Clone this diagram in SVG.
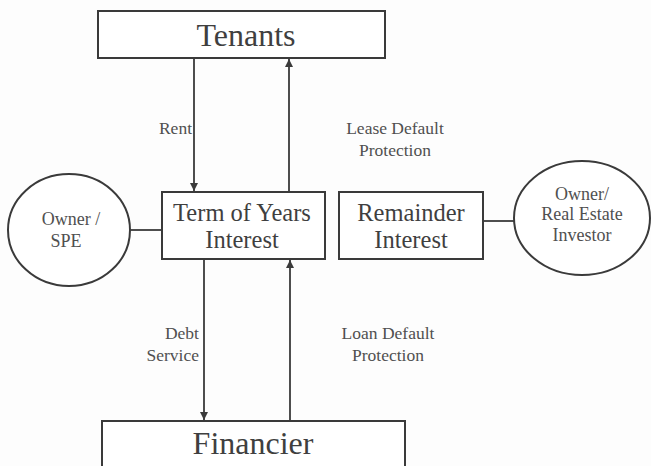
<svg xmlns="http://www.w3.org/2000/svg" width="651" height="466" viewBox="0 0 651 466" font-family="'Liberation Serif', serif">
  <style>
    .box { fill: #ffffff; stroke: #3a3a3a; stroke-width: 2; }
    .wire { stroke: #3a3a3a; stroke-width: 1.8; fill: none; }
    text { font-family: 'Liberation Serif', serif; }
    .big { font-size: 32px; fill: #3f3f3f; text-anchor: middle; }
    .mid { font-size: 24.5px; fill: #3f3f3f; text-anchor: middle; }
    .small { font-size: 18px; fill: #505050; text-anchor: middle; }
    .lbl { font-size: 17.5px; fill: #505050; }
  </style>
  <defs>
    <marker id="arrow" viewBox="0 0 10 10" refX="10" refY="5" markerWidth="9" markerHeight="8" markerUnits="userSpaceOnUse" orient="auto">
      <path d="M0,0 L10,5 L0,10 z" fill="#3a3a3a"/>
    </marker>
  </defs>
  <rect width="651" height="466" fill="#fdfdfd"/>

  <g id="connectors">
    <line class="wire" x1="194" y1="58" x2="194" y2="191" marker-end="url(#arrow)"/>
    <line class="wire" x1="289" y1="192" x2="289" y2="59" marker-end="url(#arrow)"/>
    <line class="wire" x1="204" y1="259" x2="204" y2="420" marker-end="url(#arrow)"/>
    <line class="wire" x1="290" y1="421" x2="290" y2="260" marker-end="url(#arrow)"/>
    <line class="wire" x1="130" y1="230" x2="162" y2="230"/>
    <line class="wire" x1="483" y1="221" x2="514" y2="221"/>
    <text class="lbl" x="192" y="134" text-anchor="end">Rent</text>
    <text class="lbl" x="395" y="134" text-anchor="middle">Lease Default</text>
    <text class="lbl" x="395" y="156" text-anchor="middle">Protection</text>
    <text class="lbl" x="199" y="339" text-anchor="end">Debt</text>
    <text class="lbl" x="199" y="361" text-anchor="end">Service</text>
    <text class="lbl" x="388" y="339" text-anchor="middle">Loan Default</text>
    <text class="lbl" x="388" y="361" text-anchor="middle">Protection</text>
  </g>

  <g id="tenants">
    <rect class="box" x="98" y="11" width="287" height="47"/>
    <text class="big" x="246" y="46">Tenants</text>
  </g>

  <g id="owner-spe">
    <ellipse class="box" cx="69" cy="230" rx="61" ry="56"/>
    <text class="small" x="71" y="225">Owner /</text>
    <text class="small" x="66" y="247">SPE</text>
  </g>

  <g id="term-of-years">
    <rect class="box" x="162" y="192" width="163" height="67"/>
    <text class="mid" x="242" y="221">Term of Years</text>
    <text class="mid" x="242" y="248">Interest</text>
  </g>

  <g id="remainder">
    <rect class="box" x="339" y="192" width="144" height="67"/>
    <text class="mid" x="411" y="221">Remainder</text>
    <text class="mid" x="411" y="248">Interest</text>
  </g>

  <g id="owner-investor">
    <ellipse class="box" cx="582" cy="218" rx="68" ry="57"/>
    <text class="small" x="582" y="200">Owner/</text>
    <text class="small" x="582" y="220">Real Estate</text>
    <text class="small" x="582" y="241">Investor</text>
  </g>

  <g id="financier">
    <rect class="box" x="102" y="421" width="303" height="60"/>
    <text class="big" x="253" y="454">Financier</text>
  </g>
</svg>
